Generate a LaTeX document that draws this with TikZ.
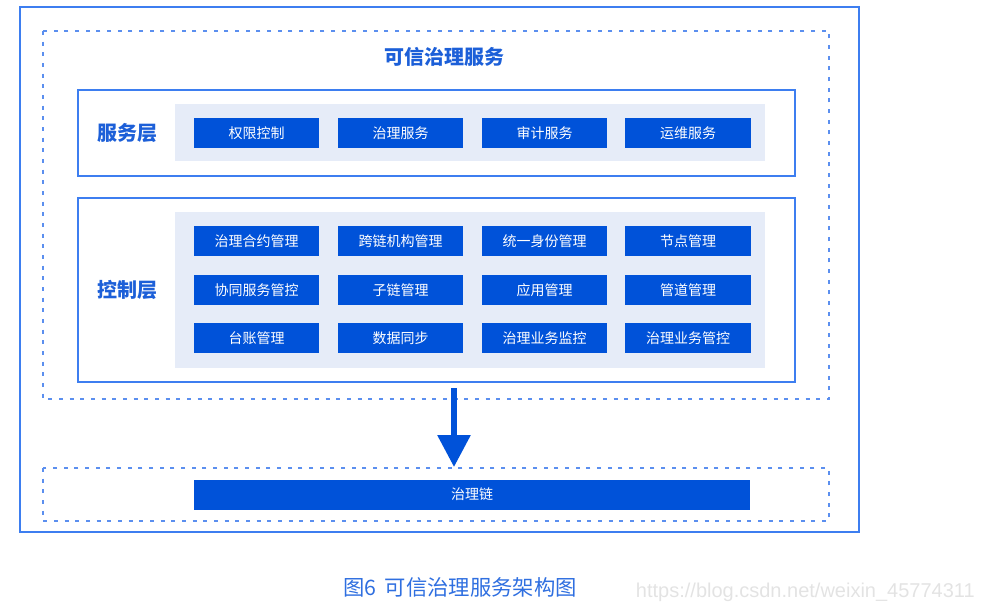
\documentclass[tikz,border=0pt]{standalone}
\usepackage{fontspec}
\newfontfamily\cjk{Noto Sans CJK SC}
\newfontfamily\wm{Liberation Sans}
\usetikzlibrary{arrows.meta}
\definecolor{frameblue}{HTML}{3D7EF0}
\definecolor{dashblue}{HTML}{5B8FEF}
\definecolor{btnblue}{HTML}{0052D9}
\definecolor{bgblue}{HTML}{E6ECF8}
\definecolor{txtblue}{HTML}{1C5FD8}
\definecolor{capblue}{HTML}{2F6FE0}
\definecolor{wmgray}{HTML}{E3E3E3}
\tikzset{
  btn/.style={fill=btnblue, draw=none, minimum width=94pt, minimum height=22.5pt, inner sep=0pt,
    text=white, font=\cjk\fontsize{10.5pt}{12pt}\selectfont},
  layerbox/.style={draw=frameblue, line width=1.1pt, fill=white},
  bgbox/.style={fill=bgblue, draw=none},
  dashbox/.style={draw=dashblue, line width=1.2pt, dash pattern=on 3pt off 5pt},
  layerlabel/.style={text=txtblue, font=\cjk\bfseries\fontsize{15pt}{18pt}\selectfont},
}
\begin{document}
\begin{tikzpicture}[x=0.75pt,y=-0.75pt]
\useasboundingbox (0,0) rectangle (983,611);
% outer frame
\draw[draw=frameblue, line width=1.5pt] (20,7) rectangle (859,532);
% outer dashed
\draw[dashbox] (43,31) rectangle (829,399);
\node[text=txtblue, font=\cjk\bfseries\fontsize{15pt}{18pt}\selectfont] (title) at (444,57) {可信治理服务};
% service layer
\draw[layerbox] (78,90) rectangle (795,176);
\fill[bgbox] (175,104) rectangle (765,161);
\node[layerlabel] (svclabel) at (127,133) {服务层};
\node[btn] (s1) at (256.5,133) {权限控制};
\node[btn] (s2) at (400.5,133) {治理服务};
\node[btn] (s3) at (544.5,133) {审计服务};
\node[btn] (s4) at (688,133) {运维服务};
% control layer
\draw[layerbox] (78,198) rectangle (795,382);
\fill[bgbox] (175,212) rectangle (765,368);
\node[layerlabel] (ctllabel) at (127,290) {控制层};
\node[btn] (c11) at (256.5,241) {治理合约管理};
\node[btn] (c12) at (400.5,241) {跨链机构管理};
\node[btn] (c13) at (544.5,241) {统一身份管理};
\node[btn] (c14) at (688,241) {节点管理};
\node[btn] (c21) at (256.5,290) {协同服务管控};
\node[btn] (c22) at (400.5,290) {子链管理};
\node[btn] (c23) at (544.5,290) {应用管理};
\node[btn] (c24) at (688,290) {管道管理};
\node[btn] (c31) at (256.5,338) {台账管理};
\node[btn] (c32) at (400.5,338) {数据同步};
\node[btn] (c33) at (544.5,338) {治理业务监控};
\node[btn] (c34) at (688,338) {治理业务管控};
% lower dashed
\draw[dashbox] (43,468) rectangle (829,521);
\node[btn, minimum width=417pt] (chain) at (472,494.5) {治理链};
% arrow
\coordinate (astart) at (454,388);
\coordinate (aend) at (454,467);
\draw[btnblue, line width=4.5pt, -{Triangle[width=24pt,length=24pt]}] (astart) -- (aend);
% caption
\node[text=capblue, font=\cjk\fontsize{16pt}{19pt}\selectfont, anchor=west, inner sep=0pt] (cap) at (343,587) {图6\hspace{0.4em}可信治理服务架构图};
\node[text=wmgray, font=\wm\fontsize{15pt}{17pt}\selectfont, anchor=east, inner sep=0pt] (wmark) at (975,592) {https://blog.csdn.net/weixin\_45774311};
\end{tikzpicture}
\end{document}
